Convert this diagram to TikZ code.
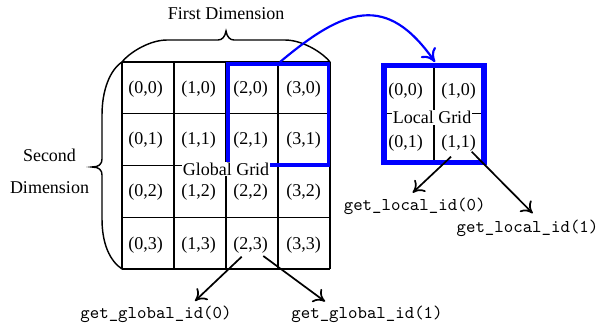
\documentclass[tikz,border=0pt]{standalone}
\usepackage{fontspec}
\setmainfont{Liberation Serif}
\usetikzlibrary{arrows.meta,calc}
\begin{document}
\begin{tikzpicture}[x=0.5556pt, y=-0.5556pt,
  gline/.style={line width=0.75pt},
  bracestroke/.style={line width=0.8pt},
  cell/.style={inner sep=0pt},
  tag/.style={fill=white, inner sep=0.6pt},
  fn/.style={font=\ttfamily, inner sep=0pt},
  idarrow/.style={line width=0.95pt, -{To[length=6pt,width=9pt]}},
  move/.style={blue, line width=1.2pt, -{To[length=7pt,width=10pt]}}]
\useasboundingbox (0,0) rectangle (599,329);
% global grid
\foreach \x in {122,174,226,278,330} \draw[gline] (\x,62) -- (\x,269);
\foreach \y in {62,113.75,165.5,217.25,269} \draw[gline] (122,\y) -- (330,\y);
\draw[blue, line width=2pt] (228,64) rectangle (328.3,165);
% local grid
\draw[gline] (434,65.5) -- (434,162.2);
\draw[gline] (384,113.5) -- (484,113.5);
\draw[blue, line width=3pt] (384,65.5) rectangle (484,162.2);
% cell labels
\foreach \c/\x in {0/145.5,1/198.5,2/250.5,3/303.5}
  \foreach \r/\y in {0/89,1/140.5,2/192.5,3/245}
    \node[cell] (g\c\r) at (\x,\y) {(\c,\r)};
\foreach \c/\x in {0/405.5,1/458.5}
  \foreach \r/\y in {0/91,1/143}
    \node[cell] (l\c\r) at (\x,\y) {(\c,\r)};
\node[tag] (gg) at (226,169) {Global Grid};
\node[tag] (lg) at (432,117.5) {Local Grid};
% dimension labels
\node (fd) at (226,14) {First Dimension};
\node[align=center] (sd) at (49.5,171) {Second\\[5.8pt]Dimension};
% braces
\draw[bracestroke] (122,62) .. controls (130,52) and (150,40) .. (167,40) -- (218,40)
  .. controls (222,40) and (225,37) .. (226,31)
  .. controls (227,37) and (230,40) .. (234,40) -- (285,40)
  .. controls (302,40) and (322,52) .. (330,62);
\draw[bracestroke] (122,62) .. controls (110,70) and (102,90) .. (102,115) -- (102,159)
  .. controls (102,164) and (99,167) .. (92,167)
  .. controls (99,167) and (102,170) .. (102,175) -- (102,219)
  .. controls (102,244) and (110,261) .. (122,269);
% blue move arrow
\coordinate (gbtop) at (280,62);
\coordinate (lbtop) at (435,62);
\draw[move] (gbtop) .. controls ($(gbtop)+(64.7,-54.3)$) and ($(lbtop)+(-48.5,-69.2)$) .. (lbtop);
% id functions
\node[fn] (gid0) at (156,314.5) {get\_global\_id(0)};
\node[fn] (gid1) at (367,314.5) {get\_global\_id(1)};
\node[fn] (lid0) at (414.7,206.7) {get\_local\_id(0)};
\node[fn] (lid1) at (527.5,228) {get\_local\_id(1)};
\draw[idarrow] ($(g23)+(-8.8,11.7)$) -- ($(gid0)+(39,-13.5)$);
\draw[idarrow] ($(g23)+(12.8,11)$) -- ($(gid1)+(-42,-13)$);
\draw[idarrow] ($(l11)+(-7.5,13.7)$) -- ($(lid0)+(-2,-14)$);
\draw[idarrow] ($(l11)+(13.2,8.7)$) -- ($(lid1)+(5.2,-14.7)$);
\end{tikzpicture}
\end{document}
